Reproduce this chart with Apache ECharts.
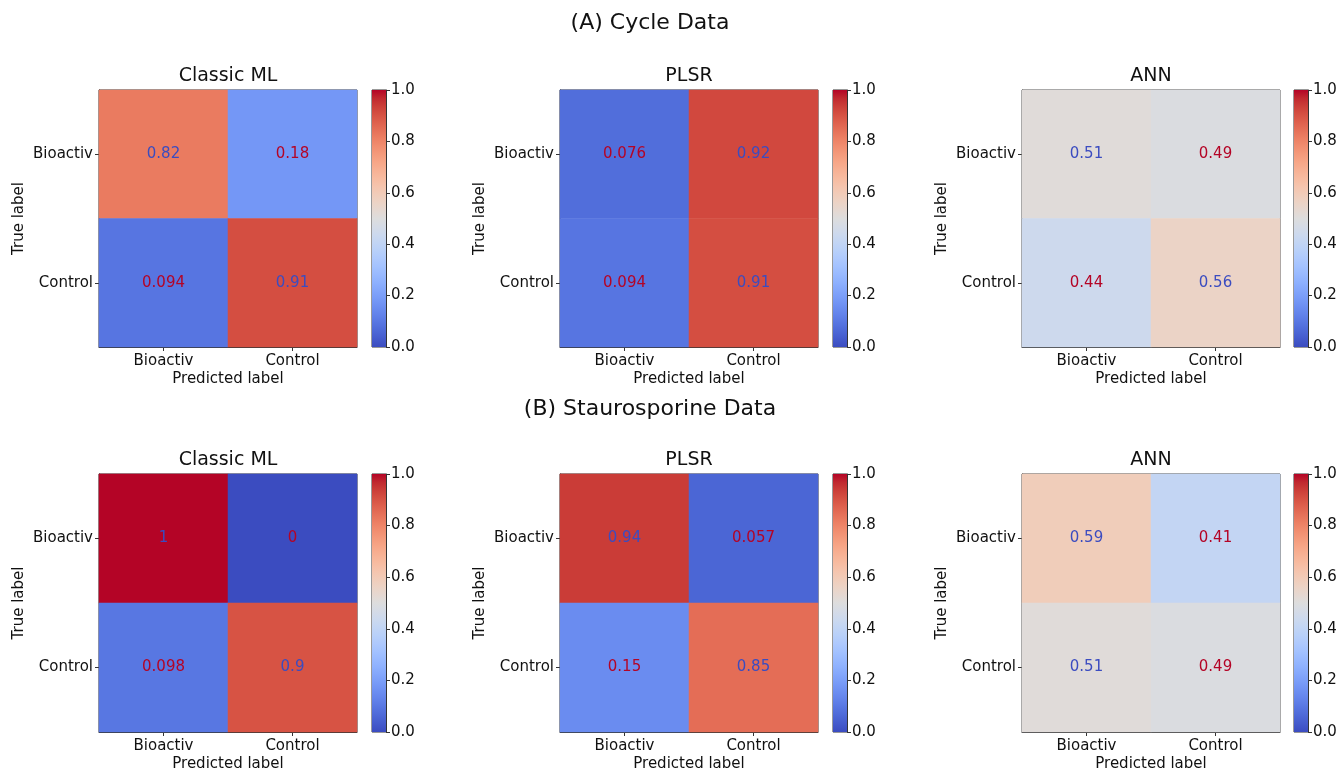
<!DOCTYPE html>
<html>
<head>
<meta charset="utf-8">
<script src="https://cdn.jsdelivr.net/npm/echarts@6/dist/echarts.min.js"></script>
<style>
html,body{margin:0;padding:0;background:#fff;}
#chart{width:1340px;height:769px;}
</style>
</head>
<body>
<div id="chart"></div>
<script>
// ---- data ----
const classes = ['Bioactiv', 'Control'];
const panelTitles = ['Classic ML', 'PLSR', 'ANN'];
const rowTitles = ['(A) Cycle Data', '(B) Staurosporine Data'];
const colorbarTicks = [0, 0.2, 0.4, 0.6, 0.8, 1.0];
// rows = true label, columns = predicted label
const cycleClassic = [[0.82, 0.18], [0.094, 0.91]];
const cyclePLSR    = [[0.076, 0.92], [0.094, 0.91]];
const cycleANN     = [[0.51, 0.49], [0.44, 0.56]];
const stauroClassic = [[1, 0], [0.098, 0.9]];
const stauroPLSR    = [[0.94, 0.057], [0.15, 0.85]];
const stauroANN     = [[0.59, 0.41], [0.51, 0.49]];
const matrices = [cycleClassic, cyclePLSR, cycleANN, stauroClassic, stauroPLSR, stauroANN];

// coolwarm colormap (33 evenly spaced stops)
const coolwarm = [
 [59,76,192],[68,90,204],[77,104,215],[87,117,225],[98,130,234],[108,142,241],[119,154,247],[130,165,251],
 [141,176,254],[152,185,255],[163,194,255],[174,201,253],[184,208,249],[194,213,244],[204,217,238],[213,219,230],
 [221,221,221],[229,216,209],[236,211,197],[241,204,185],[245,196,173],[247,187,160],[247,177,148],[247,166,135],
 [244,154,123],[241,141,111],[236,127,99],[229,112,88],[222,96,77],[213,80,66],[203,62,56],[192,40,47],[180,4,38]
].map(c => 'rgb(' + c.join(',') + ')');

// ---- layout ----
const FONT = 'DejaVu Sans';
const TXT = '#111';
const heatLeft = [99, 560, 1022];
const cbarLeft = [372, 833, 1294];
const rowTop = [90, 474];
const rowH = [257, 258];
const SIZE = 258;
const CBW = 14;

const grids = [], xAxes = [], yAxes = [], series = [], titles = [];

titles.push({text: rowTitles[0], left: 650, top: 12, textAlign: 'center', padding: 0,
  textStyle: {fontFamily: FONT, fontSize: 22, fontWeight: 'normal', color: TXT}});
titles.push({text: rowTitles[1], left: 650, top: 398, textAlign: 'center', padding: 0,
  textStyle: {fontFamily: FONT, fontSize: 22, fontWeight: 'normal', color: TXT}});

const heatSeriesIdx = [];
for (let r = 0; r < 2; r++) {
  for (let c = 0; c < 3; c++) {
    const k = r * 3 + c;
    const mat = matrices[k];
    // heatmap grid
    const gi = grids.length;
    grids.push({left: heatLeft[c], top: rowTop[r], width: SIZE, height: rowH[r],
      outerBoundsMode: 'none', containLabel: false,
      show: true, borderColor: '#333', borderWidth: 1, backgroundColor: 'transparent'});
    xAxes.push({type: 'category', gridIndex: gi, data: classes, position: 'bottom',
      boundaryGap: true,
      axisLine: {show: true, lineStyle: {color: '#333'}},
      axisTick: {show: true, alignWithLabel: true, length: 4, lineStyle: {color: '#333'}},
      axisLabel: {fontFamily: FONT, fontSize: 15, color: TXT, margin: 7},
      name: 'Predicted label', nameLocation: 'middle', nameGap: 25,
      nameTextStyle: {fontFamily: FONT, fontSize: 15, color: TXT},
      splitLine: {show: false}});
    yAxes.push({type: 'category', gridIndex: gi, data: classes, inverse: true,
      boundaryGap: true,
      axisLine: {show: true, lineStyle: {color: '#333'}},
      axisTick: {show: true, alignWithLabel: true, length: 4, lineStyle: {color: '#333'}},
      axisLabel: {fontFamily: FONT, fontSize: 15, color: TXT, margin: 6},
      name: 'True label', nameLocation: 'middle', nameGap: 72, nameRotate: 90,
      nameTextStyle: {fontFamily: FONT, fontSize: 15, color: TXT},
      splitLine: {show: false}});
    const data = [];
    for (let i = 0; i < 2; i++) {
      for (let j = 0; j < 2; j++) {
        const v = mat[i][j];
        data.push({value: [j, i, v],
          label: {color: v > 0.5 ? '#3b4cc0' : '#b40426'}});
      }
    }
    heatSeriesIdx.push(series.length);
    series.push({type: 'heatmap', xAxisIndex: gi, yAxisIndex: gi, data: data,
      label: {show: true, fontFamily: FONT, fontSize: 15,
        formatter: p => String(p.value[2])},
      emphasis: {disabled: true}, silent: true});
    titles.push({text: panelTitles[c], left: heatLeft[c] + SIZE / 2, top: rowTop[r] - 23,
      textAlign: 'center', padding: 0,
      textStyle: {fontFamily: FONT, fontSize: 19, fontWeight: 'normal', color: TXT}});

    // colorbar grid
    const ci = grids.length;
    grids.push({left: cbarLeft[c], top: rowTop[r], width: CBW, height: rowH[r],
      outerBoundsMode: 'none', containLabel: false,
      show: true, borderColor: '#333', borderWidth: 1, backgroundColor: 'transparent'});
    xAxes.push({type: 'category', gridIndex: ci, data: [''], show: false, boundaryGap: true});
    yAxes.push({type: 'value', gridIndex: ci, min: 0, max: 1, interval: 0.2, position: 'right',
      axisLine: {show: true, lineStyle: {color: '#333'}},
      axisTick: {show: true, length: 4, lineStyle: {color: '#333'}},
      axisLabel: {fontFamily: FONT, fontSize: 15, color: TXT, margin: 5,
        formatter: v => v.toFixed(1)},
      splitLine: {show: false}});
    series.push({type: 'bar', xAxisIndex: ci, yAxisIndex: ci,
      data: [colorbarTicks[colorbarTicks.length - 1]], barWidth: '100%', silent: true,
      itemStyle: {color: new echarts.graphic.LinearGradient(0, 1, 0, 0,
        coolwarm.map((col, idx) => ({offset: idx / (coolwarm.length - 1), color: col})))}});
  }
}

const chart = echarts.init(document.getElementById('chart'), null, {renderer: 'canvas'});
chart.setOption({
  backgroundColor: '#fff',
  animation: false,
  title: titles,
  grid: grids,
  xAxis: xAxes,
  yAxis: yAxes,
  visualMap: {type: 'continuous', show: false, min: 0, max: 1, seriesIndex: heatSeriesIdx,
    inRange: {color: coolwarm}},
  series: series
});
</script>
</body>
</html>
